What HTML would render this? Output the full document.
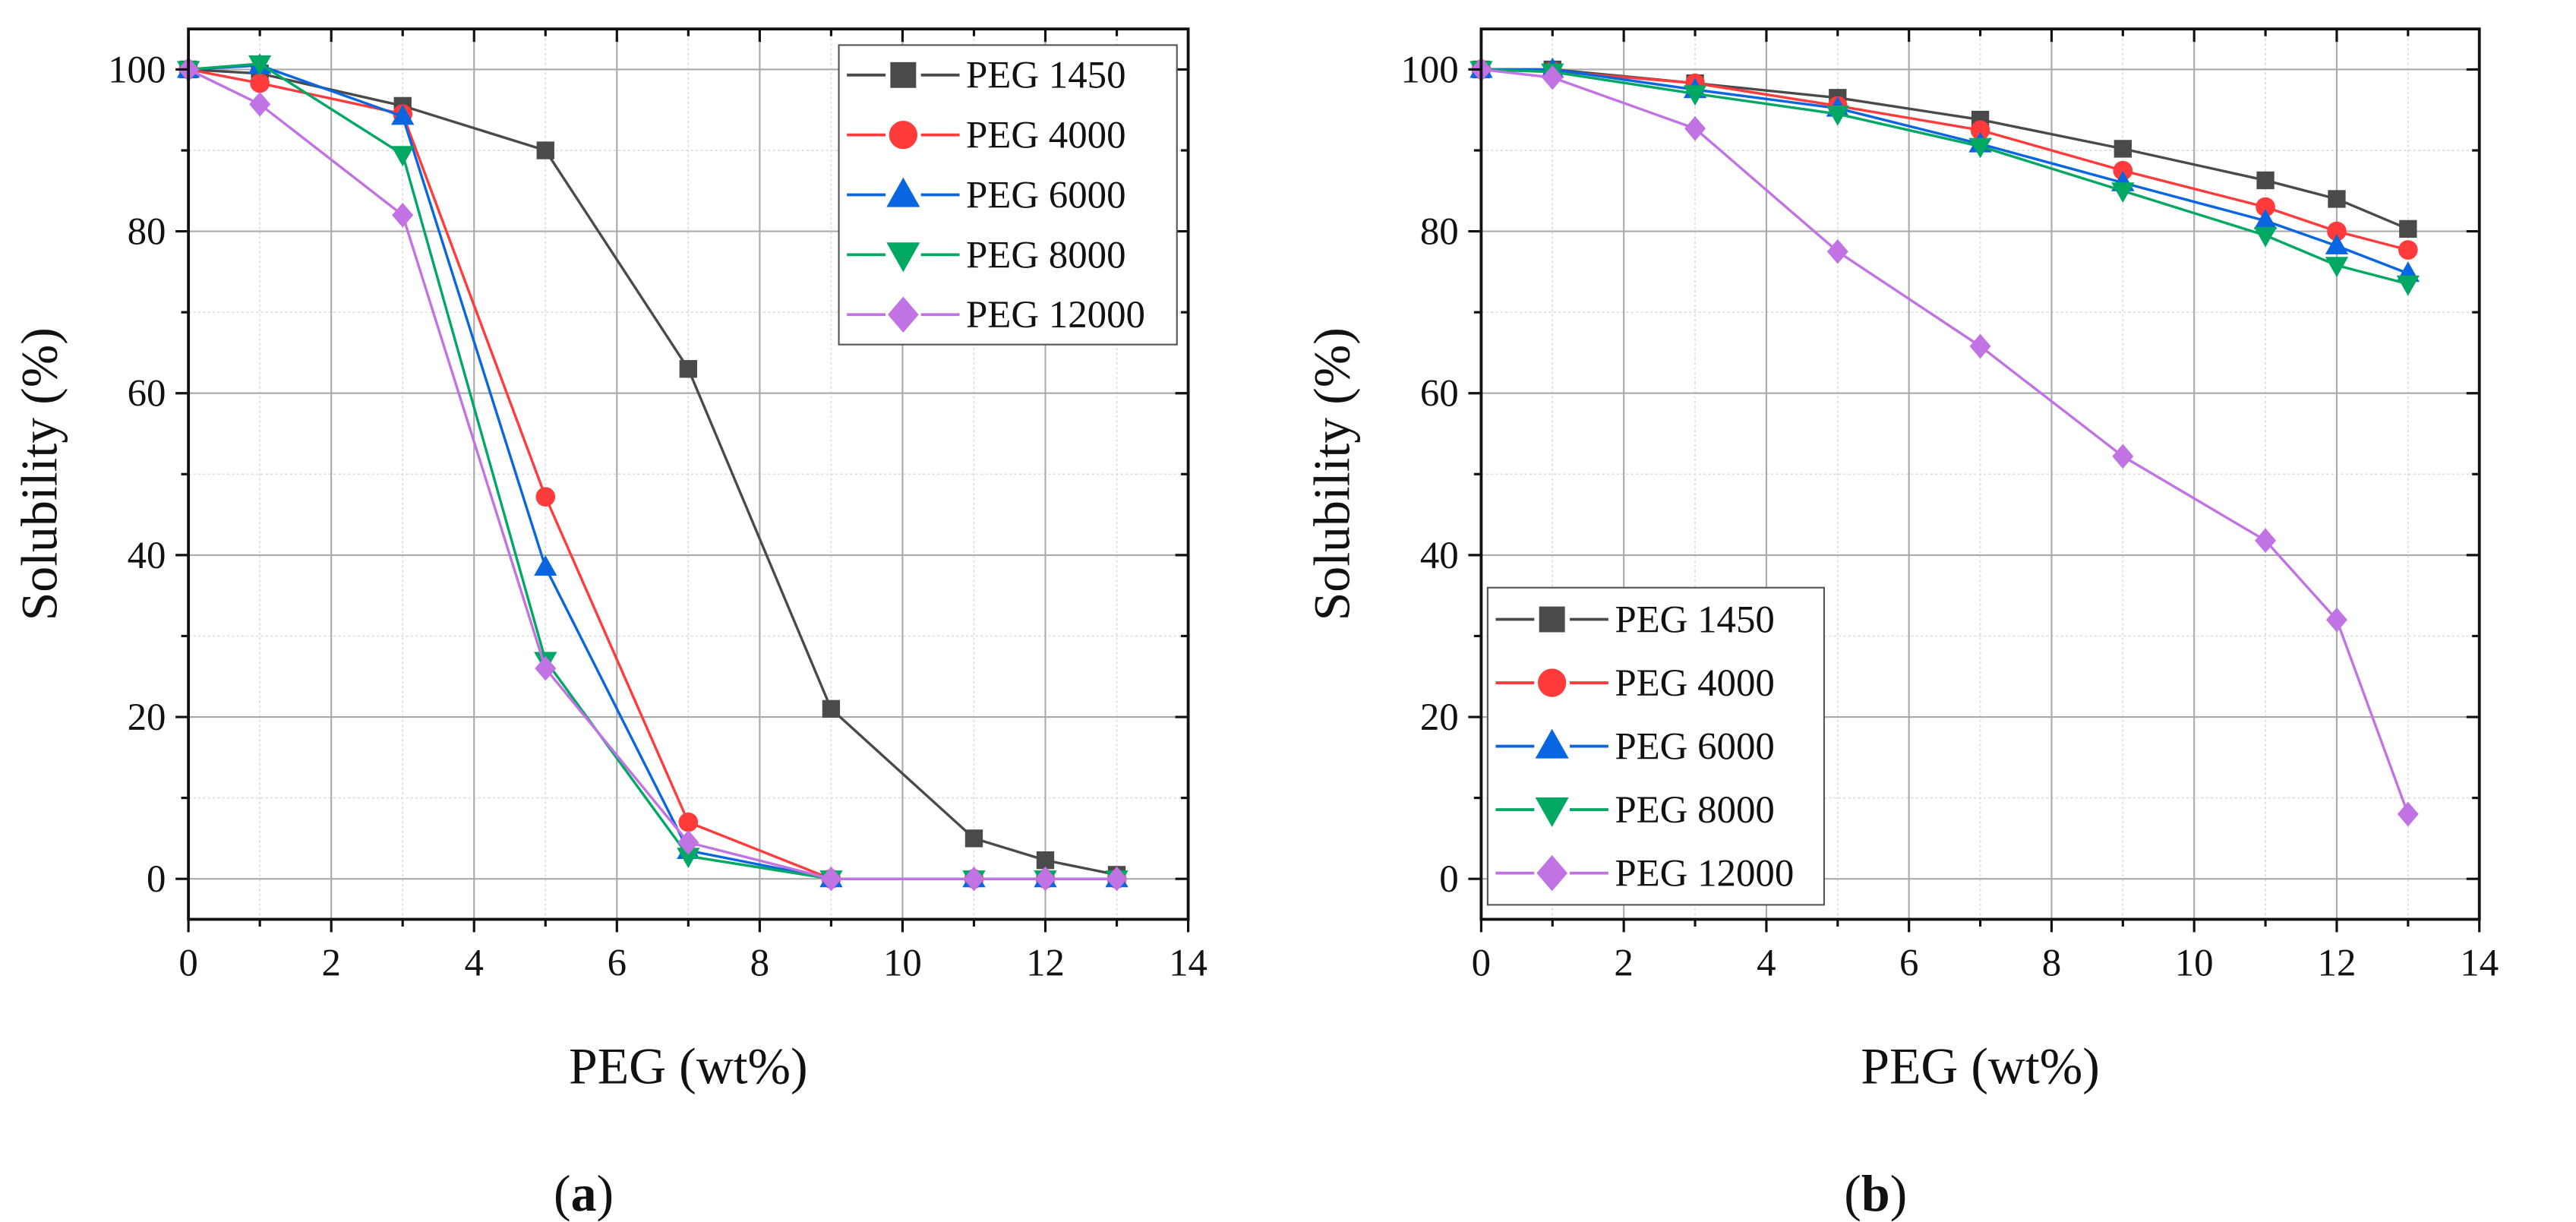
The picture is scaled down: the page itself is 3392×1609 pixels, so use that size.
<!DOCTYPE html>
<html><head><meta charset="utf-8"><style>
html,body{margin:0;padding:0;background:#fff;}
svg{display:block;}
text{font-family:"Liberation Serif",serif;fill:#111;}
</style></head><body>
<svg id="fig" width="3392" height="1609" viewBox="0 0 1600 759" xmlns="http://www.w3.org/2000/svg"></svg>
<script>
const xValues=[0,1,3,5,7,9,11,12,13];
const seriesNames=["PEG 1450","PEG 4000","PEG 6000","PEG 8000","PEG 12000"];
const aPEG1450=[100,99.5,95.5,90,63,21,5,2.3,0.5];
const aPEG4000=[100,98.3,94.5,47.2,7,0,0,0,0];
const aPEG6000=[100,100.5,94.2,38.5,3.5,0,0,0,0];
const aPEG8000=[100,100.7,89.5,27,2.8,0,0,0,0];
const aPEG12000=[100,95.7,82,26,4.5,0,0,0,0];
const bPEG1450=[100,100,98.3,96.5,93.8,90.2,86.3,84,80.3];
const bPEG4000=[100,99.8,98.3,95.5,92.5,87.5,83,80,77.7];
const bPEG6000=[100,100,97.5,95.2,90.8,86,81.3,78.2,74.8];
const bPEG8000=[100,99.7,97,94.5,90.5,85,79.5,75.8,73.5];
const bPEG12000=[100,99,92.7,77.5,65.8,52.2,41.8,32,8];
const xTicks=[0,2,4,6,8,10,12,14];
const yTicks=[0,20,40,60,80,100];

const colors=["#4a4a4a","#ff3b3b","#0a66e0","#00a864","#c273e3"];
const shapes=["square","circle","up","down","diamond"];
const NS="http://www.w3.org/2000/svg";
const svg=document.getElementById('fig');
function mk(tag,attrs,parent){const e=document.createElementNS(NS,tag);for(const k in attrs)e.setAttribute(k,attrs[k]);(parent||svg).appendChild(e);return e;}

function marker(g,shape,cx,cy,c,s){
  let e;
  if(shape==="square")e=mk('rect',{x:cx-s,y:cy-s,width:2*s,height:2*s,fill:c},g);
  else if(shape==="circle")e=mk('circle',{cx:cx,cy:cy,r:s*1.1,fill:c},g);
  else if(shape==="up")e=mk('polygon',{points:`${cx},${cy-s*1.35} ${cx-s*1.3},${cy+s*0.95} ${cx+s*1.3},${cy+s*0.95}`,fill:c},g);
  else if(shape==="down")e=mk('polygon',{points:`${cx},${cy+s*1.35} ${cx-s*1.3},${cy-s*0.95} ${cx+s*1.3},${cy-s*0.95}`,fill:c},g);
  else e=mk('polygon',{points:`${cx},${cy-s*1.4} ${cx+s*1.2},${cy} ${cx},${cy+s*1.4} ${cx-s*1.2},${cy}`,fill:c},g);
  
  
  return e;
}

function panel(id,x0,x1,data,legend,label){
  const top=18,bot=571;
  const X=v=>x0+(v/14)*(x1-x0);
  const Y=v=>bot-((v+5)/110)*(bot-top);
  const g=mk('g',{});
  
  
  for(let v=1;v<14;v+=2){const l=mk('line',{x1:X(v),x2:X(v),y1:top,y2:bot,stroke:'#ddd','stroke-width':0.8,'stroke-dasharray':'1.5 1.5'},g);}
  for(let v=10;v<=100;v+=20){const l=mk('line',{x1:x0,x2:x1,y1:Y(v),y2:Y(v),stroke:'#ddd','stroke-width':0.8,'stroke-dasharray':'1.5 1.5'},g);}
  xTicks.forEach(v=>{const l=mk('line',{x1:X(v),x2:X(v),y1:top,y2:bot,stroke:'#aaa','stroke-width':1},g);});
  yTicks.forEach(v=>{const l=mk('line',{x1:x0,x2:x1,y1:Y(v),y2:Y(v),stroke:'#aaa','stroke-width':1},g);});
  data.forEach((arr,i)=>{
    const sg=mk('g',{},g);
    
    
    const pts=arr.map((v,j)=>X(xValues[j])+','+Y(v)).join(' ');
    const pl=mk('polyline',{points:pts,fill:'none',stroke:colors[i],'stroke-width':1.6},sg);
    
    
    arr.forEach((v,j)=>marker(sg,shapes[i],X(xValues[j]),Y(v),colors[i],5.5));
  });
  const fr=mk('rect',{x:x0,y:top,width:x1-x0,height:bot-top,fill:'none',stroke:'#111','stroke-width':1.8},g);
  
  for(let v=0;v<=14;v++){const len=v%2===0?8:4.5;
    mk('line',{x1:X(v),x2:X(v),y1:bot,y2:bot+len,stroke:'#111','stroke-width':1.5},g);
    mk('line',{x1:X(v),x2:X(v),y1:top,y2:top+len,stroke:'#111','stroke-width':1.5},g);}
  for(let v=0;v<=100;v+=10){const len=v%20===0?8:4.5;
    mk('line',{x1:x0,x2:x0-len,y1:Y(v),y2:Y(v),stroke:'#111','stroke-width':1.5},g);
    mk('line',{x1:x1,x2:x1-len,y1:Y(v),y2:Y(v),stroke:'#111','stroke-width':1.5},g);}
  xTicks.forEach(v=>{const t=mk('text',{x:X(v),y:bot+35,'text-anchor':'middle','font-size':24},g);t.textContent=v;});
  yTicks.forEach(v=>{const t=mk('text',{x:x0-14,y:Y(v)+8,'text-anchor':'end','font-size':24},g);t.textContent=v;});
  const xt=mk('text',{x:(x0+x1)/2,y:673,'text-anchor':'middle','font-size':32},g);xt.textContent='PEG (wt%)';
  
  const yt=mk('text',{x:0,y:0,'text-anchor':'middle','font-size':32,transform:`translate(${x0-82},${(top+bot)/2}) rotate(-90)`},g);yt.textContent='Solubility (%)';
  
  const pl=mk('text',{x:(x0+x1)/2-65,y:752,'text-anchor':'middle','font-size':32},g);
  pl.innerHTML='(<tspan font-weight="bold">'+label+'</tspan>)';
  
  const lg=mk('g',{},g);
  
  mk('rect',{x:legend.x,y:legend.y,width:legend.w,height:legend.h,fill:'#fff',stroke:'#555','stroke-width':1},lg);
  const step=legend.h/5;
  seriesNames.forEach((n,i)=>{
    const e=mk('g',{},lg);
    
    const cy=legend.y+step*(i+0.5);
    mk('line',{x1:legend.x+5,x2:legend.x+75,y1:cy,y2:cy,stroke:colors[i],'stroke-width':1.8},e);
    mk('rect',{x:legend.x+29,y:cy-9,width:22,height:18,fill:'#fff'},e);
    marker(e,shapes[i],legend.x+40,cy,colors[i],8);
    const t=mk('text',{x:legend.x+79,y:cy+8,'font-size':24},e);t.textContent=n;
  });
}
panel('panel-a',117,738,[aPEG1450,aPEG4000,aPEG6000,aPEG8000,aPEG12000],{x:521,y:28,w:210,h:186},'a');
panel('panel-b',920,1540,[bPEG1450,bPEG4000,bPEG6000,bPEG8000,bPEG12000],{x:924,y:365,w:209,h:197},'b');
</script>
</body></html>
